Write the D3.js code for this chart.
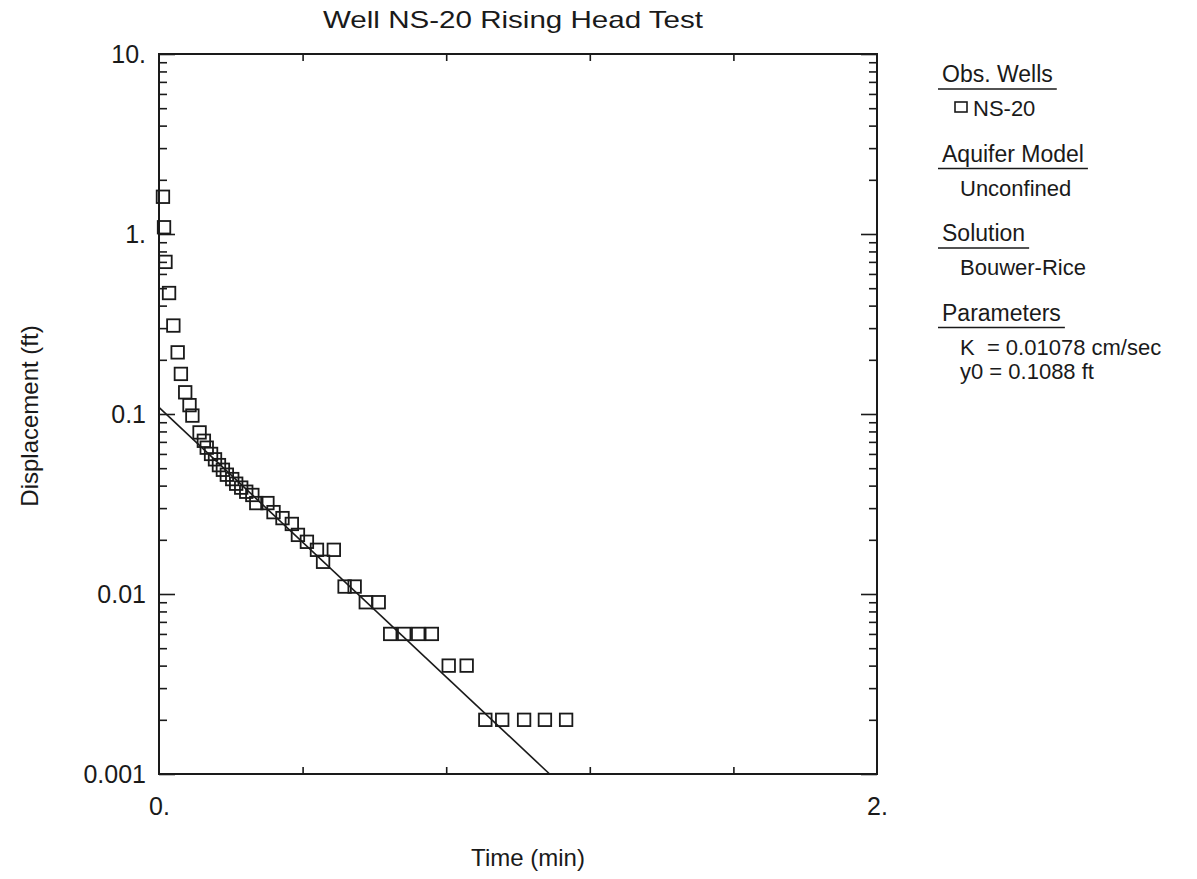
<!DOCTYPE html>
<html>
<head>
<meta charset="utf-8">
<script src="https://cdn.jsdelivr.net/npm/d3@7"></script>
<style>
  body { margin: 0; background: #fff; }
  svg { font-family: "Liberation Sans", Arial, sans-serif; }
</style>
</head>
<body>
<svg id="chart" width="1197" height="879"></svg>
<script>
// Well NS-20 rising head test (Bouwer-Rice)

// observed data
const timeMin = [0.011, 0.014, 0.018, 0.028, 0.040, 0.052, 0.061, 0.073, 0.085, 0.093,
    0.113, 0.125, 0.133, 0.145, 0.156, 0.167, 0.178, 0.189, 0.204, 0.215,
    0.229, 0.243, 0.260, 0.271, 0.302, 0.319, 0.344, 0.370, 0.387, 0.412,
    0.440, 0.457, 0.487, 0.517, 0.545, 0.576, 0.612, 0.644, 0.683, 0.722,
    0.760, 0.807, 0.857, 0.909, 0.956, 1.017, 1.075, 1.134];
const displacementFt = [1.61, 1.09, 0.70, 0.47, 0.31, 0.22, 0.167, 0.132, 0.112, 0.098,
    0.079, 0.071, 0.065, 0.060, 0.056, 0.052, 0.049, 0.046, 0.0435, 0.041,
    0.039, 0.037, 0.0355, 0.032, 0.032, 0.0285, 0.0264, 0.0245, 0.0213, 0.0195,
    0.0176, 0.0151, 0.0176, 0.011, 0.011, 0.009, 0.009, 0.006, 0.006, 0.006,
    0.006, 0.004, 0.004, 0.002, 0.002, 0.002, 0.002, 0.002];

// fitted straight line (y0 = 0.1088 ft)
const fitTime = [0, 1.088];
const fitDisp = [0.1088, 0.001];

// axes
const yDecades = [10, 1, 0.1, 0.01, 0.001];
const yDecadeLabels = ["10.", "1.", "0.1", "0.01", "0.001"];
const xMajor = [0.4, 0.8, 1.2, 1.6];
const xEnds = [0, 2];
const xEndLabels = ["0.", "2."];

// legend
const legendHeads = ["Obs. Wells", "Aquifer Model", "Solution", "Parameters"];
const legendItems = [["NS-20"], ["Unconfined"], ["Bouwer-Rice"], ["K  = 0.01078 cm/sec", "y0 = 0.1088 ft"]];

const ink = "#1a1a1a";
const margin = {top: 54, left: 159},
    width = 718,
    height = 720;

const svg = d3.select("#chart");
const g = svg.append("g")
    .attr("transform", `translate(${margin.left},${margin.top})`);

const x = d3.scaleLinear().domain([0, 2]).range([0, width]);
const y = d3.scaleLog().domain([0.001, 10]).range([height, 0]);

// minor ticks 2..9 in each decade
const minor = [];
for (const d of [0.001, 0.01, 0.1, 1]) {
    for (let k = 2; k <= 9; k++) minor.push(+(d * k).toPrecision(3));
}

function tickAxis(axis, tx, ty) {
    const a = g.append("g")
        .attr("transform", `translate(${tx},${ty})`)
        .call(axis);
    a.select(".domain").remove();
    a.selectAll("line").attr("stroke", ink).attr("stroke-width", 1.6);
    a.selectAll("text").remove();
    return a;
}

// left and right log ticks (pointing inward)
tickAxis(d3.axisRight(y).tickValues(yDecades).tickSize(16), 0, 0);
tickAxis(d3.axisRight(y).tickValues(minor).tickSize(8), 0, 0);
tickAxis(d3.axisLeft(y).tickValues(yDecades).tickSize(16), width, 0);
tickAxis(d3.axisLeft(y).tickValues(minor).tickSize(8), width, 0);
// top and bottom ticks
tickAxis(d3.axisTop(x).tickValues(xMajor).tickSize(7), 0, height);
tickAxis(d3.axisBottom(x).tickValues(xMajor).tickSize(7), 0, 0);

// frame
g.append("rect")
    .attr("x", 0).attr("y", 0)
    .attr("width", width).attr("height", height)
    .attr("fill", "none")
    .attr("stroke", ink)
    .attr("stroke-width", 2);

// tick labels
const yLab = g.append("g")
    .call(d3.axisLeft(y).tickValues(yDecades).tickSize(0).tickPadding(13)
        .tickFormat((d, i) => yDecadeLabels[i]));
yLab.select(".domain").remove();
yLab.selectAll("text").attr("font-size", 25).attr("font-family", null).attr("fill", ink);

const xLab = g.append("g")
    .attr("transform", `translate(0,${height})`)
    .call(d3.axisBottom(x).tickValues(xEnds).tickSize(0).tickPadding(23)
        .tickFormat((d, i) => xEndLabels[i]));
xLab.select(".domain").remove();
xLab.selectAll("text").attr("font-size", 25).attr("font-family", null).attr("fill", ink);

// fitted line
const fit = fitTime.map((t, i) => ({t: t, v: fitDisp[i]}));
g.append("path")
    .datum(fit)
    .attr("fill", "none")
    .attr("stroke", ink)
    .attr("stroke-width", 1.6)
    .attr("d", d3.line().x(d => x(d.t)).y(d => y(d.v)));

// observations
const obs = timeMin.map((t, i) => ({t: t, v: displacementFt[i]}));
const sq = 12.5;
g.selectAll("rect.obs")
    .data(obs)
    .enter()
    .append("rect")
    .attr("class", "obs")
    .attr("x", d => x(d.t) - sq / 2)
    .attr("y", d => y(d.v) - sq / 2)
    .attr("width", sq)
    .attr("height", sq)
    .attr("fill", "none")
    .attr("stroke", ink)
    .attr("stroke-width", 1.8);

// title & axis titles
svg.append("text")
    .attr("x", 323)
    .attr("y", 28)
    .attr("font-size", 24)
    .attr("textLength", 380)
    .attr("lengthAdjust", "spacingAndGlyphs")
    .attr("fill", ink)
    .text("Well NS-20 Rising Head Test");

svg.append("text")
    .attr("transform", "translate(38,416) rotate(-90)")
    .attr("text-anchor", "middle")
    .attr("font-size", 24)
    .attr("fill", ink)
    .text("Displacement (ft)");

svg.append("text")
    .attr("x", 528)
    .attr("y", 866)
    .attr("text-anchor", "middle")
    .attr("font-size", 24)
    .attr("fill", ink)
    .text("Time (min)");

// legend
const leg = svg.append("g").attr("transform", "translate(940,82)");
legendHeads.forEach((h, i) => {
    const top = i * 79.5;
    const head = leg.append("text")
        .attr("x", 2)
        .attr("y", top)
        .attr("font-size", 23)
        .attr("fill", ink)
        .text(h);
    const w = head.node().getComputedTextLength();
    leg.append("line")
        .attr("x1", -2).attr("x2", w + 6)
        .attr("y1", top + 7).attr("y2", top + 7)
        .attr("stroke", ink)
        .attr("stroke-width", 1.6);
    legendItems[i].forEach((s, j) => {
        const ty = top + 34 + j * 24;
        let tx = 20;
        if (i === 0) {
            leg.append("rect")
                .attr("x", 15).attr("y", ty - 14)
                .attr("width", 12).attr("height", 10)
                .attr("fill", "none")
                .attr("stroke", ink)
                .attr("stroke-width", 1.6);
            tx = 33;
        }
        leg.append("text")
            .attr("x", tx)
            .attr("y", ty)
            .attr("font-size", 22)
            .attr("fill", ink)
            .style("white-space", "pre")
            .text(s);
    });
});
</script>
</body>
</html>
